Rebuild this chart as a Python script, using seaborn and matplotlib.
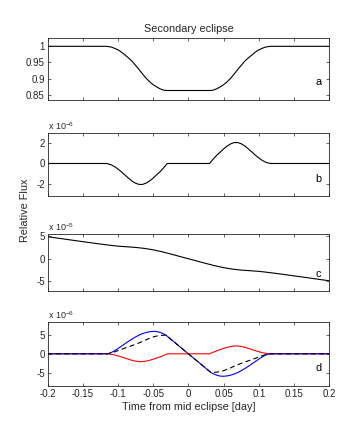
import matplotlib
matplotlib.use("Agg")
import matplotlib.pyplot as plt
import seaborn as sns

# ---------------- data ----------------
xticks = [-0.2, -0.15, -0.1, -0.05, 0, 0.05, 0.1, 0.15, 0.2]
xtick_labels = ["-0.2", "-0.15", "-0.1", "-0.05", "0", "0.05", "0.1", "0.15", "0.2"]

# panel a : relative flux
time_a = [-0.2, -0.117, -0.115, -0.11, -0.105, -0.10, -0.095, -0.09, -0.085, -0.08,
          -0.075, -0.07, -0.065, -0.06, -0.055, -0.05, -0.045, -0.04, -0.035, -0.031,
          0.031, 0.035, 0.04, 0.045, 0.05, 0.055, 0.06, 0.065, 0.07, 0.075,
          0.08, 0.085, 0.09, 0.095, 0.10, 0.105, 0.11, 0.115, 0.117, 0.2]
flux_a = [1.0, 1.0, 0.9995, 0.998, 0.994, 0.989, 0.982, 0.973, 0.964, 0.954,
          0.941, 0.928, 0.914, 0.901, 0.890, 0.881, 0.874, 0.868, 0.864, 0.863,
          0.863, 0.864, 0.868, 0.874, 0.881, 0.890, 0.901, 0.914, 0.928, 0.941,
          0.954, 0.964, 0.973, 0.982, 0.989, 0.994, 0.998, 0.9995, 1.0, 1.0]
yticks_a = [0.85, 0.9, 0.95, 1]
ytick_labels_a = ["0.85", "0.9", "0.95", "1"]

# panel b : (units of 1e-6)
time_b = [-0.2, -0.117, -0.115, -0.11, -0.105, -0.10, -0.095, -0.09, -0.085, -0.08,
          -0.075, -0.07, -0.065, -0.06, -0.055, -0.05, -0.045, -0.04, -0.035, -0.03,
          0.03, 0.035, 0.04, 0.045, 0.05, 0.055, 0.06, 0.065, 0.07, 0.075,
          0.08, 0.085, 0.09, 0.095, 0.10, 0.105, 0.11, 0.115, 0.117, 0.2]
flux_b = [0, 0, -0.02, -0.12, -0.3, -0.55, -0.83, -1.15, -1.46, -1.75,
          -1.96, -2.08, -2.08, -1.95, -1.73, -1.45, -1.12, -0.8, -0.42, 0,
          0, 0.42, 0.8, 1.12, 1.45, 1.73, 1.95, 2.08, 2.08, 1.96,
          1.75, 1.46, 1.15, 0.83, 0.55, 0.3, 0.12, 0.02, 0, 0]
yticks_b = [-2, 0, 2]
ytick_labels_b = ["-2", "0", "2"]

# panel c : (units of 1e-5)
time_c = [-0.2, -0.175, -0.15, -0.125, -0.1125, -0.1, -0.0875, -0.075, -0.0625, -0.05,
          -0.0375, -0.025, -0.0125, 0, 0.0125, 0.025, 0.0375, 0.05, 0.0625, 0.075,
          0.0875, 0.1, 0.1125, 0.125, 0.15, 0.175, 0.2]
flux_c = [4.9, 4.35, 3.8, 3.27, 3.02, 2.8, 2.66, 2.52, 2.3, 1.98,
          1.55, 1.05, 0.52, 0.0, -0.52, -1.05, -1.55, -1.98, -2.3, -2.52,
          -2.66, -2.8, -3.02, -3.27, -3.8, -4.35, -4.9]
yticks_c = [-5, 0, 5]
ytick_labels_c = ["-5", "0", "5"]

# panel d : (units of 1e-6)
time_blue = [-0.2, -0.115, -0.11, -0.105, -0.10, -0.095, -0.09, -0.085, -0.08, -0.075,
             -0.07, -0.065, -0.06, -0.055, -0.05, -0.045, -0.04, -0.035, -0.032,
             0.032, 0.035, 0.04, 0.045, 0.05, 0.055, 0.06, 0.065, 0.07, 0.075,
             0.08, 0.085, 0.09, 0.095, 0.10, 0.105, 0.11, 0.115, 0.2]
flux_blue = [0, 0, 0.3, 0.8, 1.4, 2.05, 2.7, 3.35, 3.95, 4.5,
             5.0, 5.4, 5.7, 5.9, 6.0, 5.95, 5.7, 5.3, 5.0,
             -5.0, -5.3, -5.7, -5.95, -6.0, -5.9, -5.7, -5.4, -5.0, -4.5,
             -3.95, -3.35, -2.7, -2.05, -1.4, -0.8, -0.3, 0, 0]
time_dash = [-0.2, -0.115, -0.11, -0.105, -0.10, -0.095, -0.09, -0.085, -0.08, -0.075,
             -0.07, -0.065, -0.06, -0.055, -0.05, -0.045, -0.04, -0.032,
             0.032, 0.04, 0.045, 0.05, 0.055, 0.06, 0.065, 0.07, 0.075,
             0.08, 0.085, 0.09, 0.095, 0.10, 0.105, 0.11, 0.115, 0.2]
flux_dash = [0, 0, 0.2, 0.5, 0.85, 1.2, 1.55, 1.88, 2.2, 2.55,
             2.92, 3.32, 3.75, 4.15, 4.5, 4.75, 4.9, 5.0,
             -5.0, -4.9, -4.75, -4.5, -4.15, -3.75, -3.32, -2.92, -2.55,
             -2.2, -1.88, -1.55, -1.2, -0.85, -0.5, -0.2, 0, 0]
yticks_d = [-5, 0, 5]
ytick_labels_d = ["-5", "0", "5"]

# ---------------- style ----------------
sns.set_theme(style="ticks")
plt.rcParams["font.family"] = ["Liberation Sans", "DejaVu Sans"]
plt.rcParams["mathtext.fontset"] = "custom"
plt.rcParams["mathtext.rm"] = "Liberation Sans"

W, H = 364, 434
fig = plt.figure(figsize=(W / 100, H / 100), dpi=100)
fig.patch.set_facecolor("white")

left_px, right_px = 47.5, 329.3
rects_px = [(37.7, 100.3), (133.3, 195.7), (234.0, 290.7), (322.0, 386.0)]
axes = []
for top, bot in rects_px:
    ax = fig.add_axes([left_px / W, 1 - bot / H, (right_px - left_px) / W, (bot - top) / H])
    axes.append(ax)
ax_a, ax_b, ax_c, ax_d = axes

lw = 0.8
sns.lineplot(x=time_a, y=flux_a, ax=ax_a, color="black", lw=lw, sort=False)
sns.lineplot(x=time_b, y=flux_b, ax=ax_b, color="black", lw=lw, sort=False)
sns.lineplot(x=time_c, y=flux_c, ax=ax_c, color="black", lw=lw, sort=False)
sns.lineplot(x=time_b, y=flux_b, ax=ax_d, color="red", lw=lw, sort=False)
sns.lineplot(x=time_blue, y=flux_blue, ax=ax_d, color="blue", lw=lw, sort=False)
sns.lineplot(x=time_dash, y=flux_dash, ax=ax_d, color="black", lw=lw, sort=False,
             dashes=False, linestyle=(0, (4.5, 3)))

ylims = [(0.8326, 1.0267), (-3.2, 3.0), (-7.1, 5.5), (-8.6, 8.5)]
yticks = [yticks_a, yticks_b, yticks_c, yticks_d]
ylabels = [ytick_labels_a, ytick_labels_b, ytick_labels_c, ytick_labels_d]
letters = ["a", "b", "c", "d"]
letter_y = [0.288, 0.272, 0.286, 0.277]
fs = 7

for i, ax in enumerate(axes):
    ax.set_xlim(-0.2, 0.2)
    ax.set_ylim(*ylims[i])
    ax.set_xticks(xticks)
    ax.set_yticks(yticks[i])
    ax.set_yticklabels(ylabels[i])
    if i < 3:
        ax.set_xticklabels([])
    else:
        ax.set_xticklabels(xtick_labels)
    ax.tick_params(direction="in", top=True, right=True, length=2.5, width=0.5,
                   labelsize=fs, pad=2, colors="#262626")
    for sp in ax.spines.values():
        sp.set_linewidth(0.6)
        sp.set_color("#262626")
        sp.set_visible(True)
    ax.set_xlabel("")
    ax.set_ylabel("")
    ax.text(0.961, letter_y[i], letters[i], transform=ax.transAxes,
            ha="center", va="center", fontsize=7.8, color="black")

ax_a.set_title("Secondary eclipse", fontsize=7.8, pad=4)
ax_d.set_xlabel("Time from mid eclipse [day]", fontsize=7.8, labelpad=2)

for ax, expo in [(ax_b, "-6"), (ax_c, "-5"), (ax_d, "-6")]:
    ax.text(0.0, 1.02, r"x $\mathregular{10^{%s}}$" % expo, transform=ax.transAxes,
            ha="left", va="bottom", fontsize=6.5, color="#262626")

fig.text(25.5 / W, 1 - 210 / H, "Relative Flux", rotation=90, ha="center",
         va="center", fontsize=7.8)

fig.savefig("out.png", dpi=100, facecolor="white")
